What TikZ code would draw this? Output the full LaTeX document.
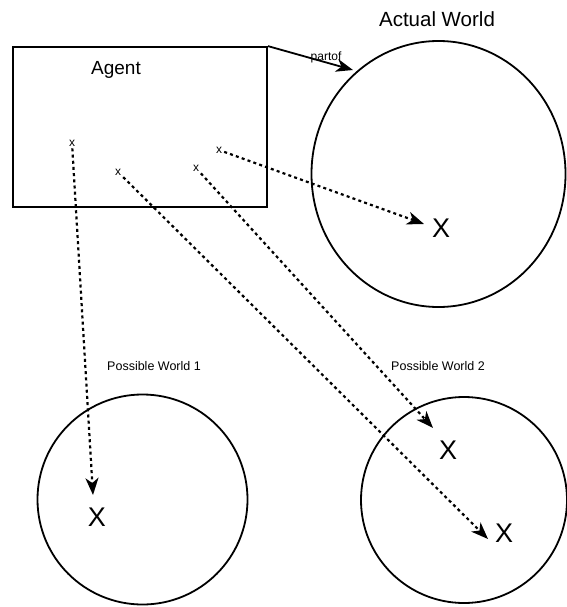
\documentclass[tikz,border=0pt]{standalone}
\usepackage{fontspec}
\setmainfont{Liberation Sans}
\usetikzlibrary{arrows.meta}
\begin{document}
\begin{tikzpicture}[x=1pt,y=-1pt,
  frame/.style={draw, line width=1.8pt},
  world/.style={draw, line width=1.8pt},
  small/.style={font=\fontsize{12}{14}\selectfont, inner sep=2pt},
  big/.style={font=\fontsize{27}{30}\selectfont, inner sep=0pt},
  title/.style={font=\fontsize{19}{22}\selectfont, inner sep=0pt},
  wlabel/.style={font=\fontsize{12.5}{14}\selectfont, inner sep=0pt},
  tip/.style={-{Stealth[length=17pt,width=13pt,inset=5pt]}},
  link/.style={tip, line width=2.2pt, dash pattern=on 3pt off 3.2pt},
]
\useasboundingbox (0,0) rectangle (566,607);
% agent
\node[frame, minimum width=254pt, minimum height=160pt, inner sep=0pt] (agent) at (140,127) {};
\node[title] (agentlabel) at (116,70) {Agent};
% worlds
\draw[world] (438.5,174) ellipse [x radius=127, y radius=133];
\node[title, font=\fontsize{20.5}{24}\selectfont] (awlabel) at (437,19) {Actual World};
\draw[world] (142.5,499.5) circle [radius=105];
\draw[world] (464,500) circle [radius=103];
\node[wlabel] (pw1label) at (154,366) {Possible World 1};
\node[wlabel] (pw2label) at (438,366) {Possible World 2};
% small x
\node[small] (x1) at (72,143) {x};
\node[small] (x2) at (118,172) {x};
\node[small] (x3) at (196,168) {x};
\node[small] (x4) at (219,150) {x};
% big X
\node[big] (X1) at (97,517) {X};
\node[big] (X2) at (441,228) {X};
\node[big] (X3) at (448,450) {X};
\node[big] (X4) at (504,533) {X};
% arrow tips
\coordinate (t1) at (93,495);
\coordinate (t2) at (424,224);
\coordinate (t3) at (433,428);
\coordinate (t4) at (488,539);
\coordinate (pt) at (353,70);
% connectors
\draw[link] (x1) -- (t1);
\draw[link] (x2) -- (t4);
\draw[link] (x3) -- (t3);
\draw[link] (x4) -- (t2);
\draw[tip, line width=1.8pt] (agent.north east) -- (pt);
\node[font=\fontsize{12}{14}\selectfont, inner sep=0pt] (partof) at (326,57) {partof};
\end{tikzpicture}
\end{document}
